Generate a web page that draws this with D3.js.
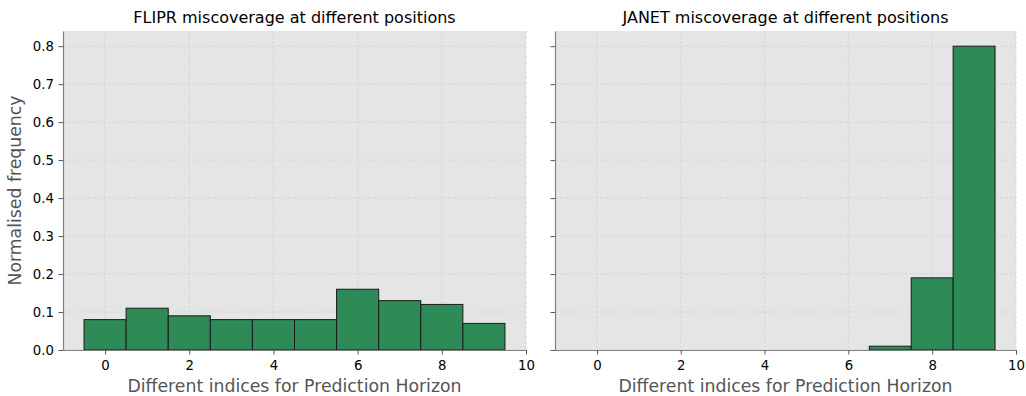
<!DOCTYPE html>
<html><head><meta charset="utf-8">
<script src="https://cdn.jsdelivr.net/npm/d3@7/dist/d3.min.js"></script>
<style>body{margin:0;background:#fff}svg{display:block}</style>
</head><body>
<script>
const positions = [0,1,2,3,4,5,6,7,8,9];
const fliprValues = [0.08,0.11,0.09,0.08,0.08,0.08,0.16,0.13,0.12,0.07];
const janetValues = [0,0,0,0,0,0,0,0.01,0.19,0.80];
const xTicks = [0,2,4,6,8,10];
const yTicks = [0,0.1,0.2,0.3,0.4,0.5,0.6,0.7,0.8];
const titles = ["FLIPR miscoverage at different positions","JANET miscoverage at different positions"];
const xLabel = "Different indices for Prediction Horizon";
const yLabel = "Normalised frequency";

const W=1026,H=396;
const svg=d3.select("body").append("svg").attr("width",W).attr("height",H);
const font="DejaVu Sans, sans-serif";
const plotTop=31,plotBottom=350;
const panels=[{x0:63,x1:526,vals:fliprValues,labels:true},{x0:555,x1:1016,vals:janetValues,labels:false}];
const y=d3.scaleLinear().domain([0,0.84]).range([plotBottom,plotTop]);

panels.forEach((p,i)=>{
  const x=d3.scaleLinear().domain([-1,10]).range([p.x0,p.x1]);
  const g=svg.append("g");
  g.append("rect").attr("x",p.x0).attr("y",plotTop).attr("width",p.x1-p.x0).attr("height",plotBottom-plotTop).attr("fill","#e5e5e5");
  g.selectAll(".gx").data(xTicks).join("line").attr("x1",d=>x(d)).attr("x2",d=>x(d)).attr("y1",plotTop).attr("y2",plotBottom)
    .attr("stroke","#d2d2d2").attr("stroke-width",0.8).attr("stroke-dasharray","3,2");
  g.selectAll(".gy").data(yTicks).join("line").attr("y1",d=>y(d)).attr("y2",d=>y(d)).attr("x1",p.x0).attr("x2",p.x1)
    .attr("stroke","#d2d2d2").attr("stroke-width",0.8).attr("stroke-dasharray","3,2");
  g.selectAll(".bar").data(positions).join("rect")
    .attr("x",d=>x(d-0.5)).attr("width",d=>x(d+0.5)-x(d-0.5))
    .attr("y",d=>y(p.vals[d])).attr("height",d=>y(0)-y(p.vals[d]))
    .attr("fill","#2e8b57").attr("stroke","#1a1a1a").attr("stroke-width",1);
  const ax=g.append("g").attr("transform",`translate(0,${plotBottom})`)
    .call(d3.axisBottom(x).tickValues(xTicks).tickFormat(d3.format("d")).tickSize(4.5).tickPadding(6.5).tickSizeOuter(0));
  const ay=g.append("g").attr("transform",`translate(${p.x0},0)`)
    .call(d3.axisLeft(y).tickValues(yTicks).tickFormat(p.labels?d3.format(".1f"):"").tickSize(4.5).tickPadding(4.5).tickSizeOuter(0));
  [ax,ay].forEach(a=>{
    a.select(".domain").attr("stroke","#808080").attr("stroke-width",1.2);
    a.selectAll(".tick line").attr("stroke","#555");
    a.selectAll("text").attr("font-family",font).attr("font-size",13.3).attr("fill","#000");
  });
  g.append("text").attr("x",(p.x0+p.x1)/2).attr("y",23).attr("text-anchor","middle")
    .attr("font-family",font).attr("font-size",16).attr("fill","#000").text(titles[i]);
  g.append("text").attr("x",(p.x0+p.x1)/2).attr("y",392).attr("text-anchor","middle")
    .attr("font-family",font).attr("font-size",17.3).attr("fill","#555").text(xLabel);
});
svg.append("text").attr("transform",`translate(21,${(plotTop+plotBottom)/2}) rotate(-90)`).attr("text-anchor","middle")
  .attr("font-family",font).attr("font-size",17.3).attr("fill","#555").text(yLabel);
</script>
</body></html>
